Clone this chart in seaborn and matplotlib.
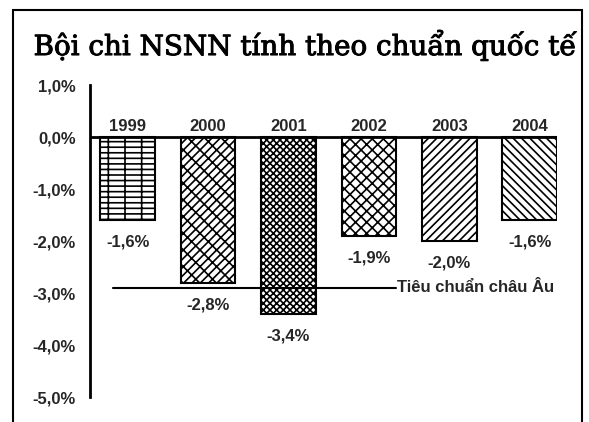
import matplotlib
matplotlib.use("Agg")
import matplotlib.pyplot as plt
import matplotlib.patheffects as pe
import seaborn as sns
import pandas as pd
from matplotlib.patches import Rectangle

# Data
years = ["1999", "2000", "2001", "2002", "2003", "2004"]
deficit = [-1.6, -2.8, -3.4, -1.9, -2.0, -1.6]
eu_standard = -2.9
y_ticks = [1, 0, -1, -2, -3, -4, -5]
hatches = ["---|", "////\\\\", "xxxxx", "xxx", "////", "\\\\\\\\"]

sns.set_theme(style="white")
plt.rcParams["font.family"] = ["Liberation Sans Narrow", "Liberation Sans", "DejaVu Sans"]
plt.rcParams["hatch.linewidth"] = 1.2

df = pd.DataFrame({"year": years, "deficit": deficit})

fig = plt.figure(figsize=(5.89, 4.22), dpi=100)
ax = fig.add_axes([90 / 589, 1 - 397 / 422, 467 / 589, 312 / 422])

sns.barplot(data=df, x="year", y="deficit", color="white", width=0.68,
            edgecolor="black", linewidth=1.5, ax=ax)
for patch, h in zip(ax.patches, hatches):
    patch.set_hatch(h)

ax.set_ylim(-5, 1)
ax.set_xlim(-0.47, 5.34)
ax.set_yticks(y_ticks)
ax.set_yticklabels([f"{v:.1f}%".replace(".", ",") for v in y_ticks],
                   fontweight="bold", fontsize=12)
ax.tick_params(axis="y", length=0, pad=10)
ax.set_xticks([])
ax.set_xlabel("")
ax.set_ylabel("")
for side in ["top", "right", "bottom"]:
    ax.spines[side].set_visible(False)
ax.spines["left"].set_linewidth(2)
ax.spines["left"].set_color("black")

ax.axhline(0, color="black", linewidth=2)

for i, (yr, v) in enumerate(zip(years, deficit)):
    ax.text(i, 0.05, yr, ha="center", va="bottom", fontweight="bold", fontsize=12)
    ax.annotate(f"{v:.1f}%".replace(".", ","), (i, v), xytext=(0, -16),
                textcoords="offset points", ha="center", va="center",
                fontweight="bold", fontsize=12)

ax.plot([-0.19, 3.34], [eu_standard, eu_standard], color="black", linewidth=1.5)
ax.text(3.35, eu_standard, "Tiêu chuẩn châu Âu", ha="left", va="center",
        fontweight="bold", fontsize=12)

fig.text(305 / 589, 1 - 45 / 422, "Bội chi NSNN tính theo chuẩn quốc tế",
         ha="center", va="center", fontsize=20, color="black",
         family=["DejaVu Serif"],
         path_effects=[pe.withStroke(linewidth=0.7, foreground="black")])

fig.patches.append(Rectangle((13 / 589, -0.05), 569 / 589, 1.05 - 10 / 422,
                             transform=fig.transFigure, fill=False,
                             edgecolor="black", linewidth=1.5))

fig.savefig("out.png", dpi=100, facecolor="white")
